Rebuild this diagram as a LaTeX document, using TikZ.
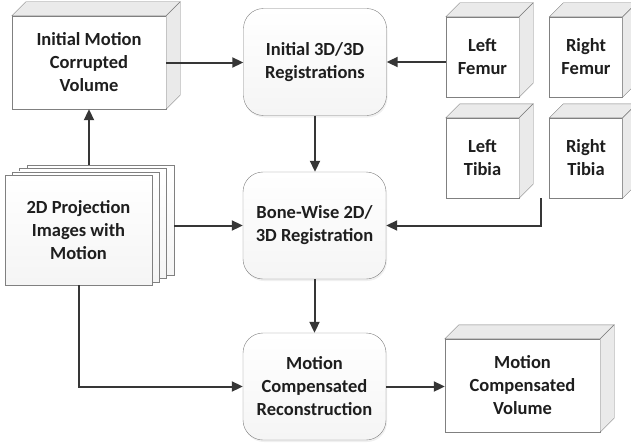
\documentclass[tikz,border=0pt]{standalone}
\usepackage{fontspec}
\setmainfont{Carlito}
\usetikzlibrary{arrows.meta,shadows}

\definecolor{linegray}{HTML}{363636}
\definecolor{edgegray}{HTML}{808080}
\definecolor{sidegray}{HTML}{EAEAEA}
\definecolor{textblack}{HTML}{1E1E1E}

% depth of the cuboid faces
\newcommand{\cubedepth}{14}
\newcommand{\cubesides}[1]{
    \draw[side] (#1.north west) -- ++(\cubedepth,-\cubedepth) -- ([shift={(\cubedepth,-\cubedepth)}]#1.north east) -- (#1.north east) -- cycle;
    \draw[side] (#1.north east) -- ([shift={(\cubedepth,-\cubedepth)}]#1.north east) -- ([shift={(\cubedepth,-\cubedepth)}]#1.south east) -- (#1.south east) -- cycle;
}

\begin{document}
\begin{tikzpicture}[x=1pt,y=-1pt,
    every node/.style={align=center,text=textblack,font=\fontsize{18.5}{23}\selectfont\bfseries},
    box/.style={draw=edgegray,top color=white,bottom color=gray!8,inner sep=0pt},
    regbox/.style={box,rounded corners=20pt,minimum width=143pt,minimum height=107pt,
        drop shadow={shadow xshift=1pt,shadow yshift=-2pt,opacity=0.12}},
    cube/.style={box,top color=white,bottom color=white},
    bone/.style={cube,minimum width=73pt,minimum height=80pt},
    sheet/.style={box,minimum width=147pt,minimum height=110pt},
    side/.style={draw=edgegray,fill=sidegray},
    flow/.style={draw=linegray,line width=2pt,-{Triangle[length=11pt,width=10pt]}}]

\useasboundingbox (0,0) rectangle (631,444);

\node[cube,minimum width=154pt,minimum height=93pt] (imcv) at (89,62.5) {Initial Motion\\Corrupted\\Volume};
\node[regbox] (reg3d) at (315,62) {Initial 3D/3D\\Registrations};

\node[bone] (lfemur) at (482.5,57) {Left\\Femur};
\node[bone] (rfemur) at (586,57) {Right\\Femur};
\node[bone] (ltibia) at (482.5,158) {Left\\Tibia};
\node[bone] (rtibia) at (586,158) {Right\\Tibia};

% stacked projection images
\foreach \k in {3,2,1}
    \node[sheet] (sheet\k) at (78.5+7.3*\k,230-3.3*\k) {};
\node[sheet] (proj) at (78.5,230) {2D Projection\\Images with\\Motion};

\node[regbox] (bonereg) at (314.5,225.5) {Bone-Wise 2D/\\3D Registration};
\node[regbox] (mcrec) at (314.5,386.5) {Motion\\Compensated\\Reconstruction};
\node[cube,minimum width=155pt,minimum height=93pt] (mcvol) at (522.5,385.5) {Motion\\Compensated\\Volume};

\foreach \n in {imcv,lfemur,rfemur,ltibia,rtibia,mcvol}
    {\cubesides{\n}}

% connectors
\coordinate (tibfeed) at (541,198);
\draw[flow] (imcv.east) -- (imcv.east -| reg3d.west);
\draw[flow] (reg3d.east -| lfemur.west) -- (reg3d.east);
\draw[flow] (reg3d.south) -- (reg3d.south |- bonereg.north);
\draw[flow] (imcv.south |- sheet3.north) -- (imcv.south);
\draw[flow] (bonereg.west -| sheet3.east) -- (bonereg.west);
\draw[flow] (tibfeed) |- (bonereg.east);
\draw[flow] (bonereg.south) -- (bonereg.south |- mcrec.north);
\draw[flow] (proj.south) |- (mcrec.west);
\draw[flow] (mcrec.east) -- (mcrec.east -| mcvol.west);
\end{tikzpicture}
\end{document}
